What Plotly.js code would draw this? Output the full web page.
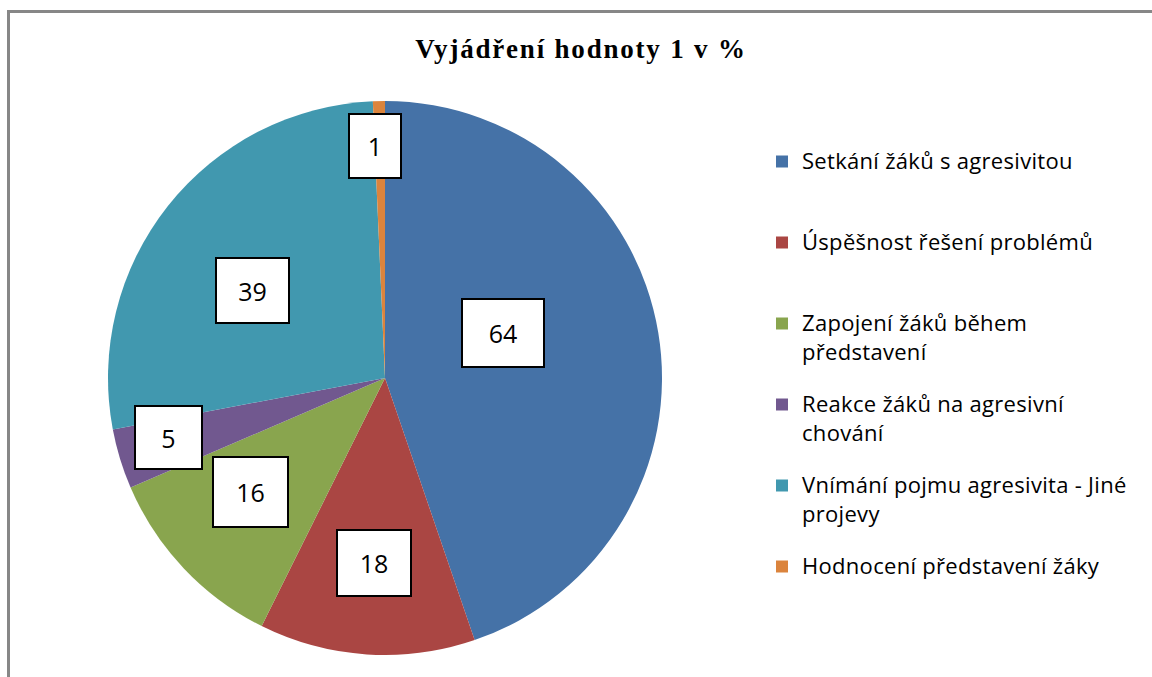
<!DOCTYPE html>
<html>
<head>
<meta charset="utf-8">
<script src="https://cdn.plot.ly/plotly-3.0.1.min.js"></script>
<style>
  html, body { margin: 0; padding: 0; background: #fff; }
  #chart { width: 1152px; height: 677px; }
  .gtitle { letter-spacing: 1.8px; }
  .legendtext { font-size: 22px !important; letter-spacing: 0.3px; }
</style>
</head>
<body>
<div id="chart"></div>
<script>
// ---- data ----
var categories = [
  "Setkání žáků s agresivitou",
  "Úspěšnost řešení problémů",
  "Zapojení žáků během<br>představení",
  "Reakce žáků na agresivní<br>chování",
  "Vnímání pojmu agresivita - Jiné<br>projevy",
  "Hodnocení představení žáky"
];
var values = [64, 18, 16, 5, 39, 1];
var chartTitle = "Vyjádření hodnoty 1 v %";

// ---- styles ----
var colors = ["#4572A7", "#AA4643", "#89A54E", "#71588F", "#4198AF", "#DB843D"];
// data-label placement (fraction along slice angle, fraction of radius) and box sizes
var labelFrac = [0.43, 0.49, 0.58, 0.62, 0.45, 0.0];
var labelRad = [0.455, 0.67, 0.635, 0.81, 0.575, 0.84];
var boxW = [84, 76, 77, 69, 75, 54];
var boxH = [70, 68, 72, 65, 67, 66];

var W = 1152, H = 677;
var pieLeft = 108, pieRight = 662, pieTop = 101, pieBottom = 655;
var cx = (pieLeft + pieRight) / 2, cy = (pieTop + pieBottom) / 2;
var R = (pieRight - pieLeft) / 2;

// legend names padded so every entry spans 3 lines
var legendNames = categories.map(function (c) {
  var n = c.split("<br>").length;
  var s = c;
  for (var i = n; i < 3; i++) s += "<br> ";
  return s;
});

var total = values.reduce(function (a, b) { return a + b; }, 0);
var annotations = [];
var cum = 0;
for (var i = 0; i < values.length; i++) {
  var a0 = cum / total * 2 * Math.PI;
  var a1 = (cum + values[i]) / total * 2 * Math.PI;
  cum += values[i];
  var a = a0 + (a1 - a0) * labelFrac[i];
  var r = R * labelRad[i];
  var px = cx + r * Math.sin(a);
  var py = cy - r * Math.cos(a);
  annotations.push({
    xref: "paper", yref: "paper",
    x: px / W, y: 1 - py / H,
    xanchor: "center", yanchor: "middle",
    text: String(values[i]),
    showarrow: false,
    font: { family: "Open Sans, sans-serif", size: 25, color: "#000" },
    bgcolor: "#fff",
    bordercolor: "#000",
    borderwidth: 2,
    borderpad: 0,
    width: boxW[i] - 4,
    height: boxH[i] - 4
  });
}

var trace = {
  type: "pie",
  labels: legendNames,
  values: values,
  sort: false,
  direction: "clockwise",
  rotation: 0,
  textinfo: "none",
  hoverinfo: "label+value",
  marker: { colors: colors, line: { width: 0 } },
  domain: { x: [pieLeft / W, pieRight / W], y: [1 - pieBottom / H, 1 - pieTop / H] },
  showlegend: true
};

var layout = {
  width: W, height: H,
  margin: { l: 0, r: 0, t: 0, b: 0 },
  paper_bgcolor: "#fff",
  title: {
    text: "<b>" + chartTitle + "</b>",
    font: { family: "Liberation Serif, Times New Roman, serif", size: 27, color: "#000" },
    x: 581 / W, xanchor: "center",
    y: 1 - 49 / H, yanchor: "middle"
  },
  legend: {
    x: 762 / W, xanchor: "left",
    y: 1 - 142 / H, yanchor: "top",
    valign: "top",
    font: { family: "Open Sans, sans-serif", size: 20, color: "#000" },
    bgcolor: "rgba(0,0,0,0)",
    traceorder: "normal"
  },
  annotations: annotations,
  shapes: [{
    type: "rect", xref: "paper", yref: "paper",
    x0: 8.5 / W, x1: 1.05, y0: -0.05, y1: 1 - 11.5 / H,
    line: { color: "#878787", width: 3 },
    fillcolor: "rgba(0,0,0,0)"
  }]
};

Plotly.newPlot("chart", [trace], layout, { displayModeBar: false, staticPlot: true });
</script>
</body>
</html>
